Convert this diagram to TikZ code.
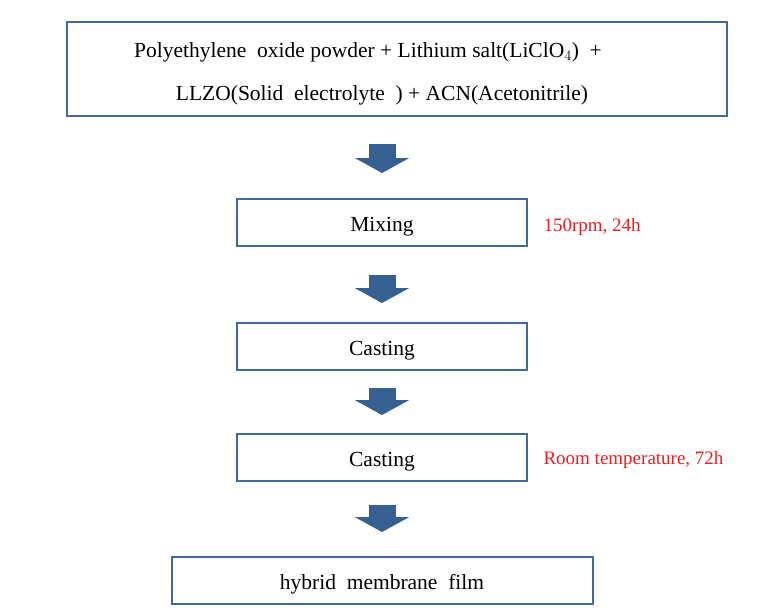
\documentclass[tikz,border=0pt]{standalone}
\usepackage{fontspec}
\setmainfont{Liberation Serif}
\usepackage{tikz}
\usetikzlibrary{arrows.meta,positioning}
\definecolor{boxblue}{RGB}{65,105,158}
\definecolor{arrowblue}{RGB}{55,96,146}
\definecolor{noteRed}{RGB}{235,30,35}

\begin{document}
\begin{tikzpicture}[x=1pt, y=-1pt, every node/.style={font=\fontsize{21.5}{26}\selectfont},
		stepbox/.style={draw=boxblue, line width=2pt, minimum width=290pt, minimum height=47pt, inner sep=0pt,
			text height=21pt, text depth=3pt},
		note/.style={text=noteRed, font=\fontsize{19}{23}\selectfont, anchor=west},
		blockarrow/.style={arrowblue, line width=27pt, -{Triangle[width=54pt,length=15pt]}}]
			\useasboundingbox (0,0) rectangle (777,610);
			\node[draw=boxblue, line width=2pt, minimum width=660pt, minimum height=94pt, align=center] (mix0) at (397,69)
			{\rule{0pt}{25pt}Polyethylene\ \ oxide powder + Lithium salt(LiClO$_4$)\ \ +\hspace*{58pt}\\[17pt] LLZO(Solid\ \ electrolyte\ \ ) + ACN(Acetonitrile)\hspace*{30pt}};
			\node[stepbox, below=81pt of mix0, xshift=-15pt] (mix) {Mixing};
			\node[stepbox, below=75pt of mix] (cast1) {Casting};
			\node[stepbox, below=62pt of cast1] (cast2) {Casting};
			\node[stepbox, minimum width=421pt, below=74pt of cast2] (film) {hybrid\ \ membrane\ \ film};
			
			\node[note, right=12pt of mix, yshift=-4pt] (cond1) {150rpm, 24h};
			\node[note, right=12pt of cast2, yshift=-2pt] (cond2) {Room temperature, 72h};
			
			\draw[blockarrow] ([yshift=-27pt]mix0.south -| mix) -- ([yshift=25pt]mix.north);
			\draw[blockarrow] ([yshift=-28pt]mix.south) -- ([yshift=19pt]cast1.north);
			\draw[blockarrow] ([yshift=-17pt]cast1.south) -- ([yshift=18pt]cast2.north);
			\draw[blockarrow] ([yshift=-23pt]cast2.south) -- ([yshift=24pt]film.north);
		\end{tikzpicture}
\end{document}
